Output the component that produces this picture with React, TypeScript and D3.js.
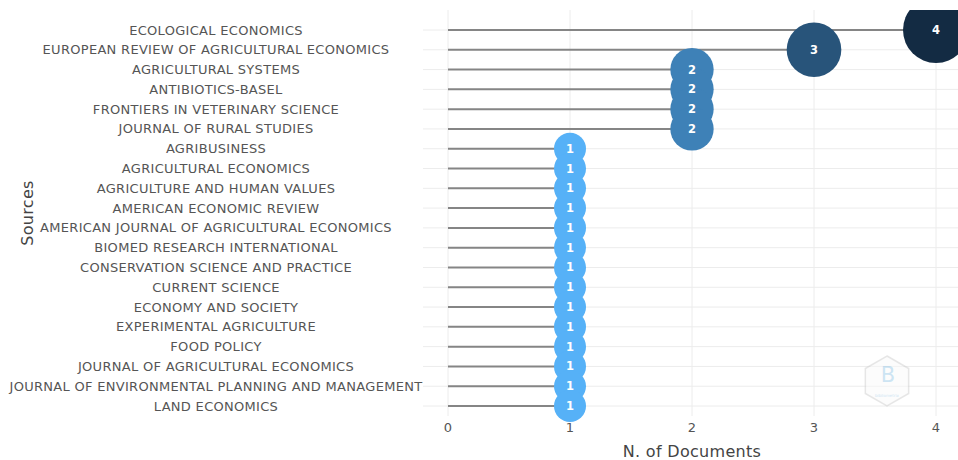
import React, { useEffect } from 'react';
import * as d3 from 'd3';

// Sources (top to bottom) and number of documents
const sources = [
  'ECOLOGICAL ECONOMICS',
  'EUROPEAN REVIEW OF AGRICULTURAL ECONOMICS',
  'AGRICULTURAL SYSTEMS',
  'ANTIBIOTICS-BASEL',
  'FRONTIERS IN VETERINARY SCIENCE',
  'JOURNAL OF RURAL STUDIES',
  'AGRIBUSINESS',
  'AGRICULTURAL ECONOMICS',
  'AGRICULTURE AND HUMAN VALUES',
  'AMERICAN ECONOMIC REVIEW',
  'AMERICAN JOURNAL OF AGRICULTURAL ECONOMICS',
  'BIOMED RESEARCH INTERNATIONAL',
  'CONSERVATION SCIENCE AND PRACTICE',
  'CURRENT SCIENCE',
  'ECONOMY AND SOCIETY',
  'EXPERIMENTAL AGRICULTURE',
  'FOOD POLICY',
  'JOURNAL OF AGRICULTURAL ECONOMICS',
  'JOURNAL OF ENVIRONMENTAL PLANNING AND MANAGEMENT',
  'LAND ECONOMICS',
];
const docs = [4, 3, 2, 2, 2, 2, 1, 1, 1, 1, 1, 1, 1, 1, 1, 1, 1, 1, 1, 1];
const xTicks = [0, 1, 2, 3, 4];

const W = 958;
const H = 460;
const plot = { left: 423, right: 958, top: 10, bottom: 416 };
const font = '"DejaVu Sans", Verdana, sans-serif';

const App: React.FC = () => {
  useEffect(() => {
    document.body.style.margin = '0';
  }, []);

  const x = d3.scaleLinear().domain([0, 4]).range([448, 936]);
  const y = d3.scalePoint<string>().domain(sources).range([30, 406]);
  const color = d3
    .scaleLinear<string>()
    .domain([1, 4])
    .range(['#56B1F7', '#132B43'])
    .interpolate(d3.interpolateLab);
  const radius = d3.scaleLinear().domain([1, 4]).range([16, 33]);

  const labelX = 216;

  // hexagon for the watermark logo
  const hex = d3.range(6).map(i => {
    const a = (Math.PI / 3) * i - Math.PI / 2;
    return [887 + 25 * Math.cos(a), 381 + 25 * Math.sin(a)] as [number, number];
  });

  return (
    <svg width={W} height={H} style={{ display: 'block', fontFamily: font }}>
      <defs>
        <clipPath id="plotClip">
          <rect x={plot.left} y={plot.top} width={plot.right - plot.left} height={425 - plot.top} />
        </clipPath>
      </defs>

      {/* grid */}
      <g stroke="#ececec" strokeWidth={1}>
        {sources.map(s => (
          <line key={s} x1={plot.left} x2={plot.right} y1={y(s)} y2={y(s)} />
        ))}
        {xTicks.map(t => (
          <line key={t} x1={x(t)} x2={x(t)} y1={plot.top} y2={plot.bottom} />
        ))}
      </g>

      {/* watermark */}
      <g opacity={0.5}>
        <polygon points={hex.map(p => p.join(',')).join(' ')} fill="#fafafa" stroke="#cfcfcf" strokeWidth={1.5} />
        <text x={888} y={382} textAnchor="middle" fontSize={21} fill="#9ccbe9">B</text>
        <text x={887} y={397} textAnchor="middle" fontSize={4} fill="#9ccbe9">bibliometrix</text>
      </g>

      {/* lollipops */}
      <g clipPath="url(#plotClip)">
        {sources.map((s, i) => (
          <line key={s} x1={x(0)} x2={x(docs[i])} y1={y(s)} y2={y(s)} stroke="#858585" strokeWidth={2} />
        ))}
        {sources.map((s, i) => (
          <circle key={s} cx={x(docs[i])} cy={y(s)} r={radius(docs[i])} fill={color(docs[i])} />
        ))}
        {sources.map((s, i) => (
          <text
            key={s}
            x={x(docs[i])}
            y={y(s)}
            dy="0.35em"
            textAnchor="middle"
            fontSize={11.5}
            fontWeight="bold"
            fill="#fff"
          >
            {docs[i]}
          </text>
        ))}
      </g>

      {/* y tick labels */}
      <g fontSize={13} letterSpacing={0.3} fill="#555" textAnchor="middle">
        {sources.map(s => (
          <text key={s} x={labelX} y={y(s)} dy="0.35em">{s}</text>
        ))}
      </g>

      {/* x tick labels */}
      <g fontSize={13} fill="#555" textAnchor="middle">
        {xTicks.map(t => (
          <text key={t} x={x(t)} y={427} dy="0.35em">{t}</text>
        ))}
      </g>

      {/* axis titles */}
      <text x={(x(0) + x(4)) / 2} y={451} dy="0.35em" textAnchor="middle" fontSize={16} letterSpacing={0.3} fill="#444">
        N. of Documents
      </text>
      <text
        transform={`translate(27,213) rotate(-90)`}
        dy="0.35em"
        textAnchor="middle"
        fontSize={16}
        letterSpacing={0.3}
        fill="#444"
      >
        Sources
      </text>
    </svg>
  );
};

export default App;
